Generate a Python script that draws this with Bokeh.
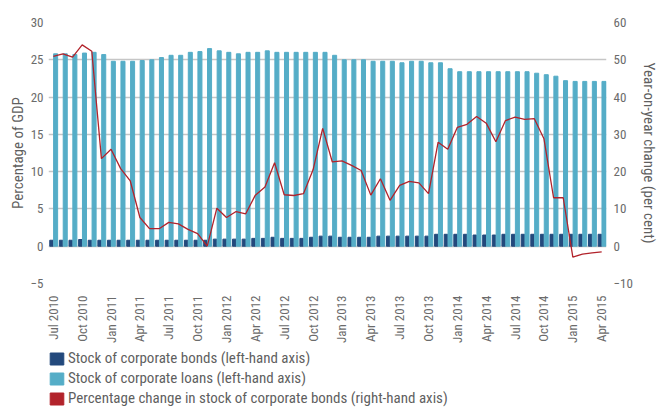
from bokeh.plotting import figure
from bokeh.layouts import column
from bokeh.models import (Range1d, LinearAxis, FixedTicker, Legend, LegendItem,
                          ColumnDataSource)
from bokeh.transform import dodge
from bokeh.embed import file_html
from bokeh.resources import INLINE

# ---- data ----
months = list(range(58))  # Jul 2010 .. Apr 2015, monthly
tick_positions = [0, 3, 6, 9, 12, 15, 18, 21, 24, 27, 30, 33, 36, 39, 42, 45, 48, 51, 54, 57]
tick_labels = ["Jul 2010", "Oct 2010", "Jan 2011", "Apr 2011", "Jul 2011", "Oct 2011",
               "Jan 2012", "Apr 2012", "Jul 2012", "Oct 2012", "Jan 2013", "Apr 2013",
               "Jul 2013", "Oct 2013", "Jan 2014", "Apr 2014", "Jul 2014", "Oct 2014",
               "Jan 2015", "Apr 2015"]

bonds = [0.8, 0.8, 0.8, 0.9, 0.8, 0.8, 0.8, 0.8, 0.8, 0.8,
         0.8, 0.8, 0.8, 0.8, 0.8, 0.8, 0.8, 0.95, 0.95, 0.95,
         0.95, 1.05, 1.05, 1.2, 1.05, 1.05, 1.05, 1.2, 1.35, 1.35,
         1.2, 1.2, 1.2, 1.2, 1.35, 1.35, 1.35, 1.35, 1.35, 1.35,
         1.6, 1.6, 1.6, 1.6, 1.5, 1.5, 1.5, 1.6, 1.6, 1.6,
         1.6, 1.6, 1.6, 1.6, 1.6, 1.6, 1.6, 1.6]

loans = [25.8, 25.8, 25.7, 25.9, 26.0, 25.7, 24.8, 24.8, 24.8, 24.9,
         25.0, 25.3, 25.6, 25.6, 26.0, 26.1, 26.5, 26.2, 26.0, 25.8,
         26.0, 26.0, 26.2, 26.0, 26.0, 26.0, 26.0, 26.0, 26.0, 25.6,
         25.0, 25.0, 25.0, 24.8, 24.8, 24.8, 24.6, 24.8, 24.8, 24.6,
         24.6, 23.8, 23.4, 23.4, 23.4, 23.4, 23.4, 23.4, 23.4, 23.4,
         23.2, 23.0, 22.8, 22.2, 22.1, 22.1, 22.1, 22.1]

pct_change = [50.9, 51.6, 50.7, 54.0, 52.3, 23.5, 26.0, 20.8, 17.5, 7.7,
              4.7, 4.7, 6.4, 6.0, 4.5, 3.4, 0.0, 10.2, 7.7, 9.3,
              8.7, 13.7, 15.9, 22.4, 13.8, 13.6, 14.1, 20.5, 31.6, 22.6,
              22.9, 21.7, 20.3, 13.7, 18.1, 12.3, 16.3, 17.4, 17.0, 14.1,
              27.9, 26.0, 31.9, 32.7, 34.8, 33.0, 28.0, 33.7, 34.6, 34.0,
              34.2, 28.8, 13.0, 13.0, -2.9, -2.1, -1.8, -1.5]

series_names = ["Stock of corporate bonds (left-hand axis)",
                "Stock of corporate loans (left-hand axis)",
                "Percentage change in stock of corporate bonds (right-hand axis)"]

DARK = "#23497c"
LIGHT = "#55adc7"
RED = "#b2232b"
FONT = "'Liberation Sans Narrow', 'Roboto Condensed', 'DejaVu Sans Condensed', sans-serif"
TICK_COLOR = "#6b6b6b"
TEXT_COLOR = "#5f5f5f"

src = ColumnDataSource(dict(m=months, bonds=bonds, loans=loans, pct=pct_change))

p = figure(width=660, height=348, output_backend="svg", toolbar_location=None,
           x_range=Range1d(-0.5, 57.5), y_range=Range1d(-5, 30),
           min_border_left=48, min_border_right=40, min_border_top=22,
           min_border_bottom=65)
p.extra_y_ranges = {"right": Range1d(-10, 60)}

p.vbar(x=dodge("m", -0.19, range=p.x_range), top="bonds", bottom=0,
       width=0.36, color=DARK, source=src)
p.vbar(x=dodge("m", 0.24, range=p.x_range), top="loans", bottom=0,
       width=0.42, color=LIGHT, source=src)
p.line(x="m", y="pct", y_range_name="right", color=RED, line_width=1.3, source=src)

p.outline_line_color = None
p.background_fill_color = "white"
p.border_fill_color = "white"
p.xgrid.grid_line_color = None
p.ygrid.grid_line_color = "#c6c6c6"
p.ygrid.grid_line_width = 1.6
p.ygrid.ticker = FixedTicker(ticks=[-5, 0, 5, 10, 15, 20, 25, 30])
p.grid.level = "underlay"

# left axis
ly = p.yaxis[0]
ly.ticker = FixedTicker(ticks=[-5, 0, 5, 10, 15, 20, 25, 30])
ly.axis_label = "Percentage of GDP"

# right axis
ry = LinearAxis(y_range_name="right", ticker=FixedTicker(ticks=[-10, 0, 10, 20, 30, 40, 50, 60]),
                axis_label="Year-on-year change (per cent)")
p.add_layout(ry, "right")

# x axis
xa = p.xaxis[0]
xa.ticker = FixedTicker(ticks=tick_positions)
xa.major_label_overrides = {t: l for t, l in zip(tick_positions, tick_labels)}
xa.major_label_orientation = 1.5707963
xa.major_label_standoff = 12

for ax in [ly, ry, xa]:
    ax.axis_line_color = None
    ax.major_tick_line_color = None
    ax.minor_tick_line_color = None
    ax.major_tick_out = 0
    ax.major_tick_in = 0
    ax.minor_tick_out = 0
    ax.major_label_text_font = FONT
    ax.major_label_text_font_size = "13px"
    ax.major_label_text_color = TICK_COLOR
    ax.axis_label_text_font = FONT
    ax.axis_label_text_font_size = "15px"
    ax.axis_label_text_font_style = "normal"
    ax.axis_label_text_color = TEXT_COLOR

ly.major_label_standoff = 5
ly.axis_label_standoff = 1
ry.major_label_standoff = 7
ry.axis_label_standoff = 4

# ---- legend strip (own small figure below the chart; its bars sit outside its view) ----
q = figure(width=660, height=59, output_backend="svg", toolbar_location=None,
           x_range=Range1d(-0.5, 57.5), y_range=Range1d(100, 101),
           min_border_left=48, min_border_right=40, min_border_top=0, min_border_bottom=0)
q.axis.visible = False
q.grid.grid_line_color = None
q.outline_line_color = None
q.background_fill_color = "white"
lg_b = q.vbar(x="m", top="bonds", bottom=0, width=0.36, color=DARK, source=src)
lg_l = q.vbar(x="m", top="loans", bottom=0, width=0.42, color=LIGHT, source=src)
lg_r = q.vbar(x="m", top="pct", bottom=0, width=0.42, color=RED, source=src)

legend = Legend(items=[
    LegendItem(label=series_names[0], renderers=[lg_b]),
    LegendItem(label=series_names[1], renderers=[lg_l]),
    LegendItem(label=series_names[2], renderers=[lg_r]),
], location=(0, 0))
legend.padding = 0
legend.margin = 0
legend.spacing = 2
legend.glyph_width = 17
legend.glyph_height = 15
legend.label_height = 15
legend.label_standoff = 3
legend.border_line_color = None
legend.background_fill_alpha = 0
legend.label_text_font = FONT
legend.label_text_font_size = "15px"
legend.label_text_color = TEXT_COLOR
q.add_layout(legend, "center")

layout = column(p, q, spacing=0)
open("out.html", "w").write(file_html(layout, INLINE))
